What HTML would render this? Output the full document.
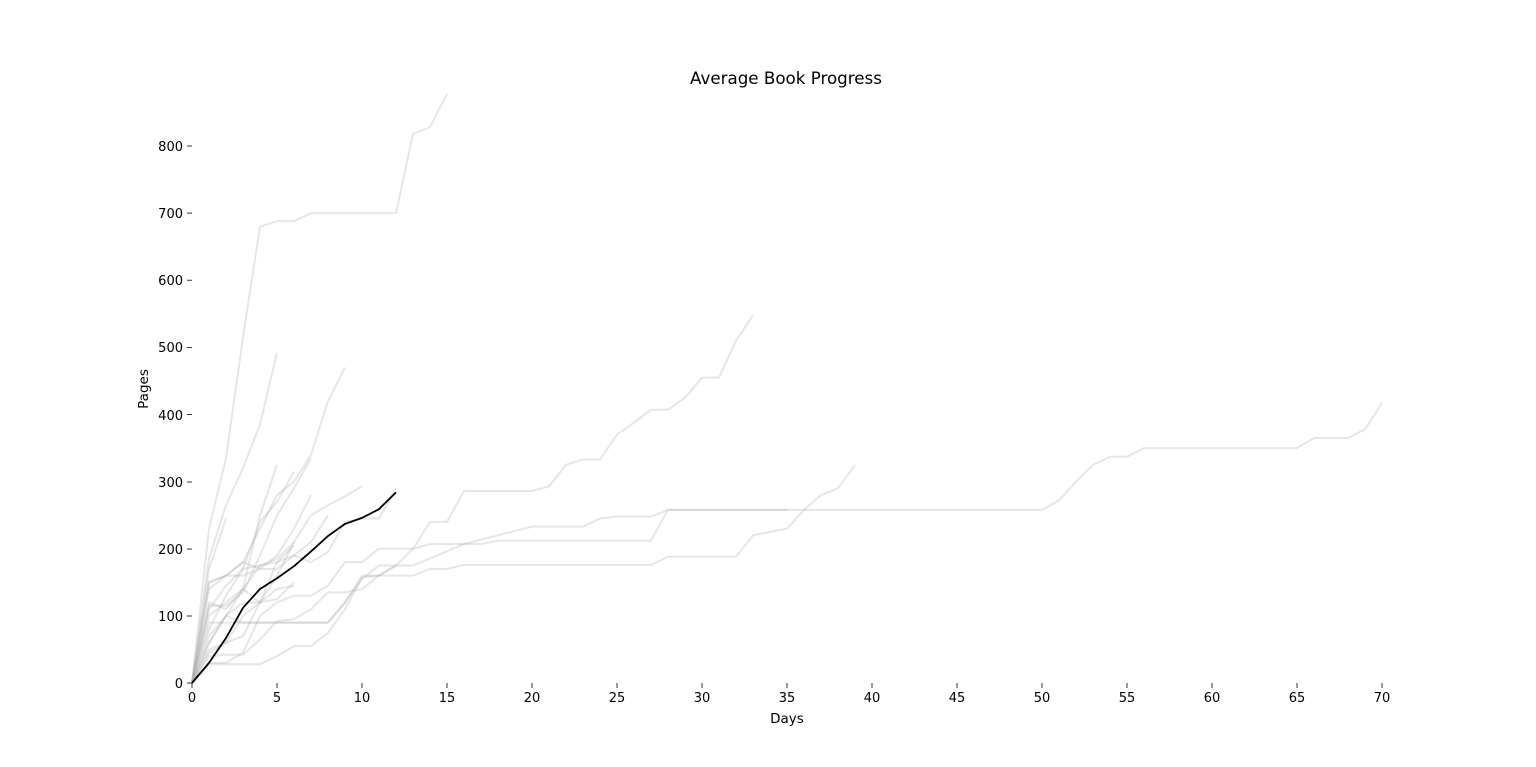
<!DOCTYPE html>
<html><head><meta charset="utf-8"><style>
body{margin:0;background:#fff;}
svg{display:block;font-family:"DejaVu Sans","Liberation Sans",sans-serif;}
</style></head><body>
<svg width="1536" height="767" viewBox="0 0 1536 767">
<rect width="1536" height="767" fill="#fff"/>
<text x="786" y="84" font-size="16.7" text-anchor="middle">Average Book Progress</text>
<text x="787" y="723" font-size="13.5" text-anchor="middle">Days</text>
<text transform="translate(148,389) rotate(-90)" font-size="13.5" text-anchor="middle">Pages</text>
<g font-size="13" text-anchor="end" stroke="none">
<text x="183" y="688">0</text>
<text x="183" y="621">100</text>
<text x="183" y="554">200</text>
<text x="183" y="487">300</text>
<text x="183" y="420">400</text>
<text x="183" y="352">500</text>
<text x="183" y="285">600</text>
<text x="183" y="218">700</text>
<text x="183" y="151">800</text>
</g>
<g stroke="#000" stroke-width="0.8">
<line x1="187" x2="192" y1="683" y2="683"/><line x1="187" x2="192" y1="616" y2="616"/>
<line x1="187" x2="192" y1="549" y2="549"/><line x1="187" x2="192" y1="482" y2="482"/>
<line x1="187" x2="192" y1="414.5" y2="414.5"/><line x1="187" x2="192" y1="347.4" y2="347.4"/>
<line x1="187" x2="192" y1="280.2" y2="280.2"/><line x1="187" x2="192" y1="213.1" y2="213.1"/>
<line x1="187" x2="192" y1="146" y2="146"/>
</g>
<g transform="translate(192,683) scale(17,-0.67125)" fill="none" stroke="#b0b0b0" stroke-opacity="0.32" stroke-width="2" stroke-linejoin="round">
<polyline vector-effect="non-scaling-stroke" points="0,0 1,230 2,335 3,515 4,680 5,688 6,688 7,700 12,700 13,818 14,828 15,878"/>
<polyline vector-effect="non-scaling-stroke" points="0,0 1,185 2,265 3,320 4,385 5,492"/>
<polyline vector-effect="non-scaling-stroke" points="0,0 1,150 2,160 3,180 4,230 5,280 6,300 7,340 8,420 9,470"/>
<polyline vector-effect="non-scaling-stroke" points="0,0 1,90 8,90 9,120 10,160 11,160 12,175 13,200 14,240 15,240 16,286 20,286 21,293 22,325 23,333 24,333 25,370 26,388 27,407 28,407 29,425 30,455 31,455 32,510 33,548"/>
<polyline vector-effect="non-scaling-stroke" points="0,0 1,30 2,30 3,45 4,100 5,120 6,130 7,130 8,145 9,180 10,180 11,200 13,200 14,207 17,207 18,212 27,212 28,258 50,258 51,272 52,300 53,325 54,337 55,337 56,350 65,350 66,365 68,365 69,378 70,417"/>
<polyline vector-effect="non-scaling-stroke" points="0,0 1,28 4,28 5,40 6,55 7,55 8,75 9,110 10,157 11,160 13,160 14,170 15,170 16,176 27,176 28,188 32,188 33,220 35,230 36,258 37,280 38,290 39,325"/>
<polyline vector-effect="non-scaling-stroke" points="0,0 1,40 2,42 3,42 4,65 5,92 6,95 7,110 8,135 9,135 10,140 11,160 12,175 13,175 16,207 20,233 23,233 24,245 25,248 27,248 28,258 35,258"/>
<polyline vector-effect="non-scaling-stroke" points="0,0 1,70 2,100 3,90 8,90 9,120 10,155 11,175 12,175"/>
<polyline vector-effect="non-scaling-stroke" points="0,0 1,150 2,160 3,160 4,170 5,170 6,190 7,180 8,195 9,240 10,245 11,245 12,290"/>
<polyline vector-effect="non-scaling-stroke" points="0,0 1,110 2,145 3,170 4,175 5,185 6,210 7,250 8,265 9,278 10,293"/>
<polyline vector-effect="non-scaling-stroke" points="0,0 1,60 2,100 3,140 4,175 5,180 6,190 7,210 8,250"/>
<polyline vector-effect="non-scaling-stroke" points="0,0 1,115 2,115 3,135 4,190 5,250 6,290 7,335"/>
<polyline vector-effect="non-scaling-stroke" points="0,0 1,100 2,120 3,140 4,250 5,325"/>
<polyline vector-effect="non-scaling-stroke" points="0,0 1,170 2,245"/>
<polyline vector-effect="non-scaling-stroke" points="0,0 1,80 2,130 3,170 4,240 5,270 6,315"/>
<polyline vector-effect="non-scaling-stroke" points="0,0 1,50 2,60 3,100 4,120 5,140 6,145"/>
<polyline vector-effect="non-scaling-stroke" points="0,0 1,120 2,110 3,140 4,120 5,180 6,205"/>
<polyline vector-effect="non-scaling-stroke" points="0,0 1,140 2,160 3,180 4,170 5,190 6,230 7,280"/>
<polyline vector-effect="non-scaling-stroke" points="0,0 1,60 2,100 3,120 4,120 5,160 6,210"/>
<polyline vector-effect="non-scaling-stroke" points="0,0 1,45 2,60 3,70 4,120 5,125 6,150"/>
<polyline vector-effect="non-scaling-stroke" stroke="#000" stroke-opacity="1" stroke-width="1.8" points="0,0 1,30 2,67 3,112 4,140 5,156 6,174 7,196 8,219 9,237 10,246 11,259 12,284"/>
</g>
<g stroke="#000" stroke-width="0.8">
<line x1="192" x2="192" y1="683" y2="688"/><line x1="277" x2="277" y1="683" y2="688"/>
<line x1="362" x2="362" y1="683" y2="688"/><line x1="447" x2="447" y1="683" y2="688"/>
<line x1="532" x2="532" y1="683" y2="688"/><line x1="617" x2="617" y1="683" y2="688"/>
<line x1="702" x2="702" y1="683" y2="688"/><line x1="787" x2="787" y1="683" y2="688"/>
<line x1="872" x2="872" y1="683" y2="688"/><line x1="957" x2="957" y1="683" y2="688"/>
<line x1="1042" x2="1042" y1="683" y2="688"/><line x1="1127" x2="1127" y1="683" y2="688"/>
<line x1="1212" x2="1212" y1="683" y2="688"/><line x1="1297" x2="1297" y1="683" y2="688"/>
<line x1="1382" x2="1382" y1="683" y2="688"/>
</g>
<g font-size="13" text-anchor="middle">
<text x="192" y="702">0</text><text x="277" y="702">5</text><text x="362" y="702">10</text>
<text x="447" y="702">15</text><text x="532" y="702">20</text><text x="617" y="702">25</text>
<text x="702" y="702">30</text><text x="787" y="702">35</text><text x="872" y="702">40</text>
<text x="957" y="702">45</text><text x="1042" y="702">50</text><text x="1127" y="702">55</text>
<text x="1212" y="702">60</text><text x="1297" y="702">65</text><text x="1382" y="702">70</text>
</g>
</svg>
</body></html>
